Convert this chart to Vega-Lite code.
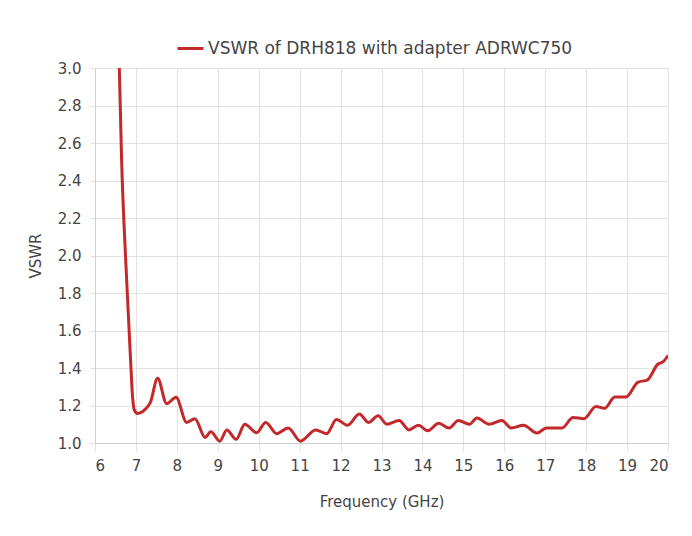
{
  "$schema": "https://vega.github.io/schema/vega-lite/v6.json",
  "width": 573,
  "height": 375,
  "autosize": {"type": "none"},
  "padding": {"left": 95, "top": 68, "right": 24, "bottom": 93},
  "background": "white",
  "config": {
    "font": "DejaVu Sans",
    "view": {"stroke": null},
    "axis": {
      "labelColor": "#444444",
      "titleColor": "#444444",
      "labelFontSize": 15,
      "titleFontSize": 15,
      "titleFontWeight": "normal",
      "gridColor": "#e2e2e2",
      "tickColor": "#e2e2e2",
      "domainColor": "#d0d0d0"
    }
  },
  "data": {
    "values": [
      {"f": 6.594, "v": 3.0},
      {"f": 6.65, "v": 2.51},
      {"f": 6.75, "v": 1.976},
      {"f": 6.87, "v": 1.44},
      {"f": 6.91, "v": 1.27},
      {"f": 6.96, "v": 1.176},
      {"f": 7.04, "v": 1.158},
      {"f": 7.25, "v": 1.185},
      {"f": 7.35, "v": 1.215},
      {"f": 7.53, "v": 1.345},
      {"f": 7.75, "v": 1.21},
      {"f": 7.98, "v": 1.244},
      {"f": 8.24, "v": 1.11},
      {"f": 8.44, "v": 1.13},
      {"f": 8.69, "v": 1.03},
      {"f": 8.83, "v": 1.06},
      {"f": 9.05, "v": 1.01},
      {"f": 9.22, "v": 1.07},
      {"f": 9.45, "v": 1.02},
      {"f": 9.66, "v": 1.1},
      {"f": 9.95, "v": 1.055},
      {"f": 10.17, "v": 1.11},
      {"f": 10.44, "v": 1.05},
      {"f": 10.72, "v": 1.08},
      {"f": 11.02, "v": 1.01},
      {"f": 11.39, "v": 1.07},
      {"f": 11.66, "v": 1.05},
      {"f": 11.9, "v": 1.125},
      {"f": 12.17, "v": 1.095},
      {"f": 12.46, "v": 1.155},
      {"f": 12.68, "v": 1.11},
      {"f": 12.92, "v": 1.145},
      {"f": 13.13, "v": 1.1},
      {"f": 13.43, "v": 1.12},
      {"f": 13.67, "v": 1.07},
      {"f": 13.9, "v": 1.095},
      {"f": 14.13, "v": 1.065},
      {"f": 14.4, "v": 1.105},
      {"f": 14.65, "v": 1.08},
      {"f": 14.88, "v": 1.12},
      {"f": 15.15, "v": 1.1},
      {"f": 15.33, "v": 1.133},
      {"f": 15.63, "v": 1.1},
      {"f": 15.94, "v": 1.12},
      {"f": 16.17, "v": 1.08},
      {"f": 16.47, "v": 1.095},
      {"f": 16.8, "v": 1.053},
      {"f": 17.03, "v": 1.08},
      {"f": 17.41, "v": 1.08},
      {"f": 17.68, "v": 1.136},
      {"f": 17.95, "v": 1.13},
      {"f": 18.24, "v": 1.195},
      {"f": 18.45, "v": 1.185},
      {"f": 18.7, "v": 1.245},
      {"f": 18.97, "v": 1.245},
      {"f": 19.27, "v": 1.325},
      {"f": 19.49, "v": 1.335},
      {"f": 19.75, "v": 1.42},
      {"f": 19.89, "v": 1.435},
      {"f": 20.0, "v": 1.467}
    ]
  },
  "mark": {"type": "line", "interpolate": "monotone", "strokeWidth": 3, "clip": true, "color": "#c3282b"},
  "encoding": {
    "x": {
      "field": "f",
      "type": "quantitative",
      "scale": {"domain": [6, 20], "nice": false, "zero": false},
      "axis": {"title": "Frequency (GHz)", "values": [6,7,8,9,10,11,12,13,14,15,16,17,18,19,20], "tickSize": 8, "labelPadding": 7, "titlePadding": 21, "format": "d"}
    },
    "y": {
      "field": "v",
      "type": "quantitative",
      "scale": {"domain": [1, 3], "nice": false, "zero": false},
      "axis": {"title": "VSWR", "values": [1.0,1.2,1.4,1.6,1.8,2.0,2.2,2.4,2.6,2.8,3.0], "format": ".1f", "tickSize": 5, "labelPadding": 9, "titlePadding": 14}
    },
    "color": {
      "datum": "VSWR of DRH818 with adapter ADRWC750",
      "type": "nominal",
      "scale": {"range": ["#c3282b"]},
      "legend": {
        "title": null,
        "orient": "none",
        "legendX": 81,
        "legendY": -34,
        "symbolType": "stroke",
        "symbolSize": 676,
        "symbolStrokeWidth": 3,
        "labelFontSize": 17,
        "labelLimit": 0,
        "labelColor": "#444444",
        "labelOffset": 3
      }
    }
  }
}
